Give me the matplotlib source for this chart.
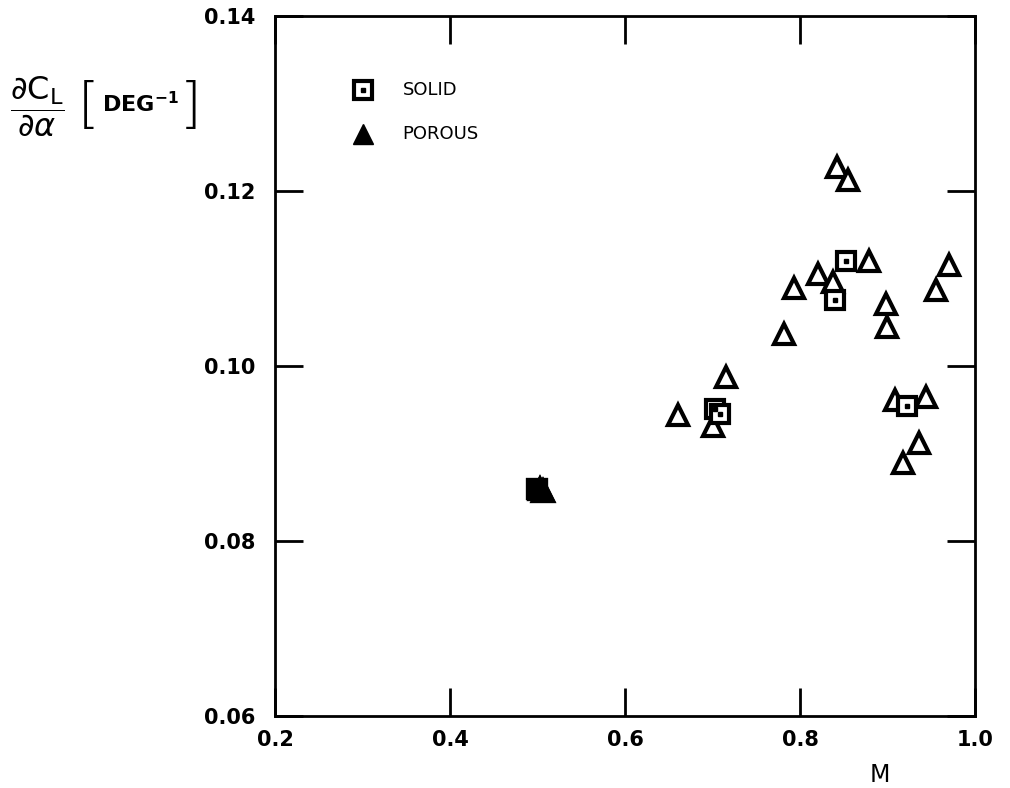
import numpy as np
import matplotlib
matplotlib.use("Agg")
import matplotlib.pyplot as plt

# Mach number / lift-curve slope
SOLID_M = [0.499, 0.703, 0.709, 0.8526, 0.840, 0.9227]
SOLID_CLA = [0.0860, 0.0951, 0.0945, 0.1120, 0.1075, 0.0954]

POROUS_M = [0.503, 0.506, 0.660, 0.701, 0.7154, 0.7817, 0.7935, 0.821,
            0.8374, 0.842, 0.855, 0.879, 0.8983, 0.899, 0.9086, 0.9174,
            0.9363, 0.944, 0.9554, 0.9706]
POROUS_CLA = [0.0859, 0.0857, 0.0944, 0.0931, 0.0987, 0.1037, 0.1089, 0.1105,
              0.1096, 0.1228, 0.1213, 0.1120, 0.1071, 0.1045, 0.0961, 0.0889,
              0.0912, 0.0965, 0.1087, 0.1115]

# the overlapping points near M = 0.5 print as a solid black blob
BLOB_SOLID_M = [0.499]
BLOB_SOLID_CLA = [0.0860]
BLOB_POROUS_M = [0.503, 0.506]
BLOB_POROUS_CLA = [0.0859, 0.0857]

X_TICKS = [0.2, 0.4, 0.6, 0.8, 1.0]
X_LABELS = ["0.2", "0.4", "0.6", "0.8", "1.0"]
Y_TICKS = [0.06, 0.08, 0.10, 0.12, 0.14]
Y_LABELS = ["0.06", "0.08", "0.10", "0.12", "0.14"]

fig = plt.figure(figsize=(10.1, 7.88), dpi=100)
ax = fig.add_axes([275 / 1010, 1 - 716 / 788, 700 / 1010, 700 / 788])

tri = dict(marker="^", ms=15, mfc="white", mec="black", mew=3, ls="none")
sq = dict(marker="s", ms=13, mfc="white", mec="black", mew=3, ls="none")
dot = dict(marker="s", ms=3.5, mfc="black", mec="black", ls="none")

ax.plot(POROUS_M, POROUS_CLA, **tri, zorder=3)
ax.plot(SOLID_M, SOLID_CLA, **sq, zorder=5)
ax.plot(SOLID_M, SOLID_CLA, **dot, zorder=6)
ax.plot(BLOB_POROUS_M, BLOB_POROUS_CLA, marker="^", ms=15, mfc="black",
        mec="black", mew=3, ls="none", zorder=7)
ax.plot(BLOB_SOLID_M, BLOB_SOLID_CLA, marker="s", ms=13, mfc="black",
        mec="black", mew=3, ls="none", zorder=7)

ax.set_xlim(0.2, 1.0)
ax.set_ylim(0.06, 0.14)
ax.set_xticks(X_TICKS)
ax.set_xticklabels(X_LABELS, fontsize=15, fontweight="bold")
ax.set_yticks(Y_TICKS)
ax.set_yticklabels(Y_LABELS, fontsize=15, fontweight="bold")
ax.tick_params(axis="both", direction="in", length=20, width=2,
               top=True, right=True)
ax.tick_params(axis="x", pad=10)
ax.tick_params(axis="y", pad=14)
for s in ax.spines.values():
    s.set_linewidth(2)

# hand-drawn style legend inside the frame
ax.plot([0.30], [0.1315], **sq)
ax.plot([0.30], [0.1315], **dot)
ax.plot([0.30], [0.1265], marker="^", ms=15, mfc="black", mec="black", ls="none")
ax.text(0.346, 0.1315, "SOLID", fontsize=13, va="center", ha="left")
ax.text(0.346, 0.1265, "POROUS", fontsize=13, va="center", ha="left")

fig.text(880 / 1010, 1 - 775 / 788, "M", fontsize=17,
         ha="center", va="center")

# y label: big fraction plus tall brackets, placed at the top left
yc = 1 - 107 / 788
fig.text(10 / 1010, yc, r"$\dfrac{\partial \mathrm{C_L}}{\partial \alpha}$",
         fontsize=23, ha="left", va="center")
fig.text(78 / 1010, yc, "[", fontsize=40, fontweight="light",
         ha="left", va="center")
fig.text(102 / 1010, yc + 0.004, r"DEG$^{\mathbf{-1}}$", fontsize=16,
         fontweight="bold", ha="left", va="center")
fig.text(180 / 1010, yc, "]", fontsize=40, fontweight="light",
         ha="left", va="center")

fig.savefig("out.png", dpi=100)
